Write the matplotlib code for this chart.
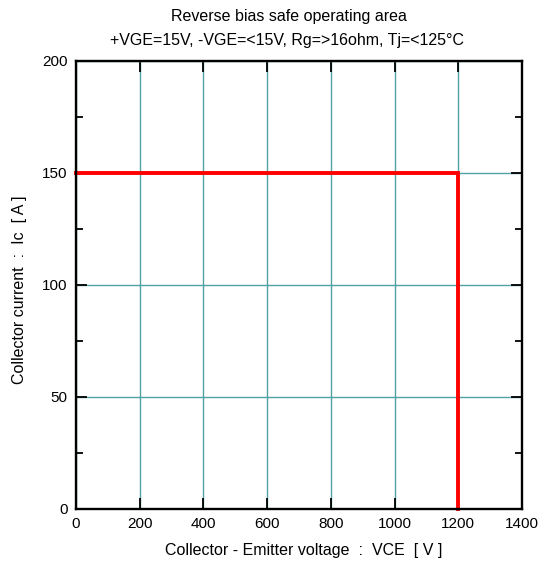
import matplotlib
matplotlib.use("Agg")
import matplotlib.pyplot as plt
from matplotlib.ticker import MultipleLocator

plt.rcParams['font.family'] = ['Liberation Sans', 'DejaVu Sans']

vce = [0, 1200, 1200]
ic = [150, 150, 0]
xticks = [0, 200, 400, 600, 800, 1000, 1200, 1400]
yticks = [0, 50, 100, 150, 200]

fig = plt.figure(figsize=(5.47, 5.65), dpi=100)
ax = fig.add_axes([76/547, 56/565, 446/547, 448/565])
ax.set_xlim(0, 1400)
ax.set_ylim(0, 200)
ax.set_xticks(xticks)
ax.set_yticks(yticks)
ax.yaxis.set_minor_locator(MultipleLocator(25))
ax.grid(True, which='major', color='#4fa3a3', linewidth=1.0, zorder=1)
ax.plot(vce, ic, color='#ff0000', linewidth=2.8, solid_joinstyle='miter', zorder=3, clip_on=False)
ax.tick_params(which='major', direction='in', length=8, width=1.3, top=True, right=True,
               labelsize=11, pad=6, color='black')
ax.tick_params(which='minor', direction='in', length=5, width=1.3, top=True, right=True)
for s in ax.spines.values():
    s.set_linewidth(1.7)
    s.set_zorder(4)
ax.set_axisbelow(False)
for line in ax.get_xgridlines() + ax.get_ygridlines():
    line.set_zorder(1)

fig.text(289/547, 1 - 17/565, "Reverse bias safe operating area", ha='center', va='center', fontsize=11.5)
fig.text(287/547, 1 - 40/565, "+VGE=15V, -VGE=<15V, Rg=>16ohm, Tj=<125°C", ha='center', va='center', fontsize=11.5)
fig.text(304/547, 1 - 551/565, "Collector - Emitter voltage  :  VCE  [ V ]", ha='center', va='center', fontsize=11.5)
fig.text(20/547, 1 - 290/565, "Collector current  :  Ic  [ A ]", ha='center', va='center', rotation=90, fontsize=11.5)

fig.savefig("out.png", dpi=100)
